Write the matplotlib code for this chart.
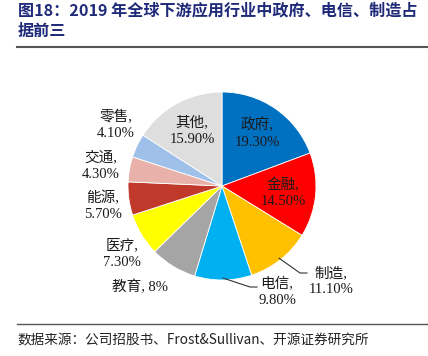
import numpy as np
import matplotlib
matplotlib.use("Agg")
import matplotlib.pyplot as plt

# data
sectors = ["政府", "金融", "制造", "电信", "教育", "医疗", "能源", "交通", "零售", "其他"]
shares = [19.30, 14.50, 11.10, 9.80, 8.0, 7.30, 5.70, 4.30, 4.10, 15.90]
share_txt = ["19.30%", "14.50%", "11.10%", "9.80%", "8%", "7.30%", "5.70%", "4.30%", "4.10%", "15.90%"]
colors = ["#0070C0", "#FF0000", "#FFC000", "#00B0F0", "#A5A5A5",
          "#FFFF00", "#C0392B", "#E8B2AB", "#9FC0E8", "#DEDEDE"]

title = "图18：2019 年全球下游应用行业中政府、电信、制造占\n据前三"
source = "数据来源：公司招股书、Frost&Sullivan、开源证券研究所"

W, H = 428, 356
cx, cy, R = 222, 186, 94  # pie centre / radius in pixels

fig = plt.figure(figsize=(W / 100, H / 100), dpi=100)
ax = fig.add_axes([0, 0, 1, 1])

ax.pie(shares, colors=colors, startangle=90, counterclock=False, radius=1,
       wedgeprops=dict(edgecolor="white", linewidth=0.6))
ax.set_aspect("auto")
ax.set_xlim(-cx / R, (W - cx) / R)
ax.set_ylim(-(H - cy) / R, cy / R)
ax.axis("off")


def to_data(px, py):
    return (px - cx) / R, (cy - py) / R


lab_font = dict(family=["Liberation Serif", "Noto Sans CJK SC"], fontsize=10.5, color="#1a1a1a")

# label placement (pixels), two-line unless noted
label_pos = {
    "政府": (257, 133), "金融": (283, 193), "其他": (192, 131),
    "零售": (116, 125), "交通": (101, 166), "能源": (103, 206),
    "医疗": (122, 254), "教育": (140, 287), "电信": (277, 292),
    "制造": (331, 281),
}

for name, txt in zip(sectors, share_txt):
    px, py = label_pos[name]
    x, y = to_data(px, py)
    s = name + ", " + txt if name == "教育" else name + ",\n" + txt
    ax.text(x, y, s, ha="center", va="center", linespacing=1.35, **lab_font)

# leader lines for 制造 and 电信
ang = 90 - (np.cumsum(shares) - np.array(shares) / 2) / 100 * 360
for name, pts in [("制造", [(300, 273), (307, 273)]), ("电信", [(250, 287), (257, 287)])]:
    i = sectors.index(name)
    a = np.deg2rad(ang[i])
    xs = [np.cos(a) * 0.98] + [to_data(*p)[0] for p in pts]
    ys = [np.sin(a) * 0.98] + [to_data(*p)[1] for p in pts]
    ax.plot(xs, ys, color="#333333", lw=0.8)

# title, rules and source
fig.text(18 / W, 1 - 2 / H, title, ha="left", va="top", fontsize=11.6, fontweight="bold",
         color="#1F2A78", family=["Noto Sans CJK SC", "DejaVu Sans"], linespacing=1.4)
fig.add_artist(plt.Line2D([17 / W, 1], [1 - 47 / H, 1 - 47 / H], color="#555555", lw=1.5))
fig.add_artist(plt.Line2D([17 / W, 1], [1 - 324 / H, 1 - 324 / H], color="#555555", lw=1.0))
fig.text(17 / W, 1 - 340 / H, source, ha="left", va="center", fontsize=9.8,
         color="#222222", family=["Noto Sans CJK SC", "Liberation Serif"])

fig.savefig("out.png", dpi=100)
